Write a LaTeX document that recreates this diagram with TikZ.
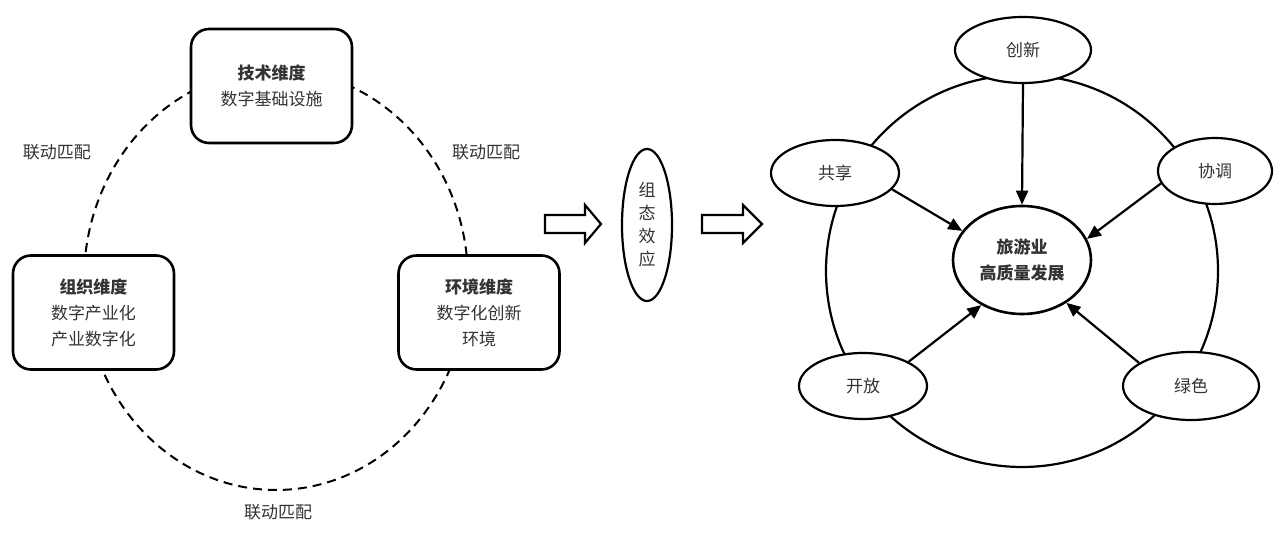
\documentclass[tikz,border=0pt]{standalone}
\usepackage{fontspec}
\setmainfont{Noto Sans CJK SC}
\usetikzlibrary{shapes.geometric,arrows.meta}
\begin{document}
\begin{tikzpicture}[x=0.5pt,y=-0.5pt,
  txt/.style={font=\fontsize{8.5}{13}\selectfont, text=black!80},
  dimbox/.style={draw, line width=1.3pt, rounded corners=9pt, fill=white, minimum width=80.5pt, minimum height=57pt, align=center, txt},
  oval/.style={draw, ellipse, line width=1.1pt, fill=white, inner sep=0pt, align=center, txt},
  arr/.style={-{Triangle[length=7pt,width=6pt]}, line width=1.1pt},
  hollow/.style={draw, line width=1.1pt, fill=white}]
\useasboundingbox[fill=white] (0,0) rectangle (1281,549);
% left part
\draw[dash pattern=on 4.5pt off 3pt, line width=1pt] (276,280) ellipse [x radius=192, y radius=210];
\node[dimbox] (tech) at (271.5,86) {\textbf{技术维度}\\数字基础设施};
\node[dimbox] (org) at (93.5,312.5) {\textbf{组织维度}\\数字产业化\\产业数字化};
\node[dimbox] (env) at (479,312.5) {\textbf{环境维度}\\数字化创新\\环境};
\node[txt] (l1) at (57,152) {联动匹配};
\node[txt] (l2) at (486,152) {联动匹配};
\node[txt] (l3) at (278,512) {联动匹配};
% block arrows
\draw[hollow] (545,215) -- (585,215) -- (585,205) -- (601,224) -- (585,243) -- (585,233) -- (545,233) -- cycle;
\draw[hollow] (702,215) -- (743,215) -- (743,205) -- (762,224) -- (743,243) -- (743,233) -- (702,233) -- cycle;
\node[oval, minimum width=25pt, minimum height=76pt, font=\fontsize{8.5}{11.5}\selectfont] (cfg) at (647,225) {组\\态\\效\\应};
% right part
\draw[line width=1.1pt] (1022,271) circle [radius=196];
\node[oval, minimum width=68pt, minimum height=33pt] (cx) at (1023,50) {创新};
\node[oval, minimum width=64pt, minimum height=33pt] (gx) at (835,173) {共享};
\node[oval, minimum width=57pt, minimum height=33pt] (xt) at (1215,171) {协调};
\node[oval, minimum width=64pt, minimum height=33pt] (kf) at (863,386) {开放};
\node[oval, minimum width=68pt, minimum height=34pt] (ls) at (1191,386) {绿色};
\node[oval, line width=1.3pt, minimum width=69pt, minimum height=54pt] (core) at (1022,260) {\textbf{旅游业}\\\textbf{高质量发展}};
\draw[arr] (cx.south) -- (core.north);
\draw[arr] (gx.-16) -- (core.154);
\draw[arr] (xt.-167) -- (core.18);
\draw[arr] (kf.28) -- (core.-132);
\draw[arr] (ls.156) -- (core.-44);
\end{tikzpicture}
\end{document}
